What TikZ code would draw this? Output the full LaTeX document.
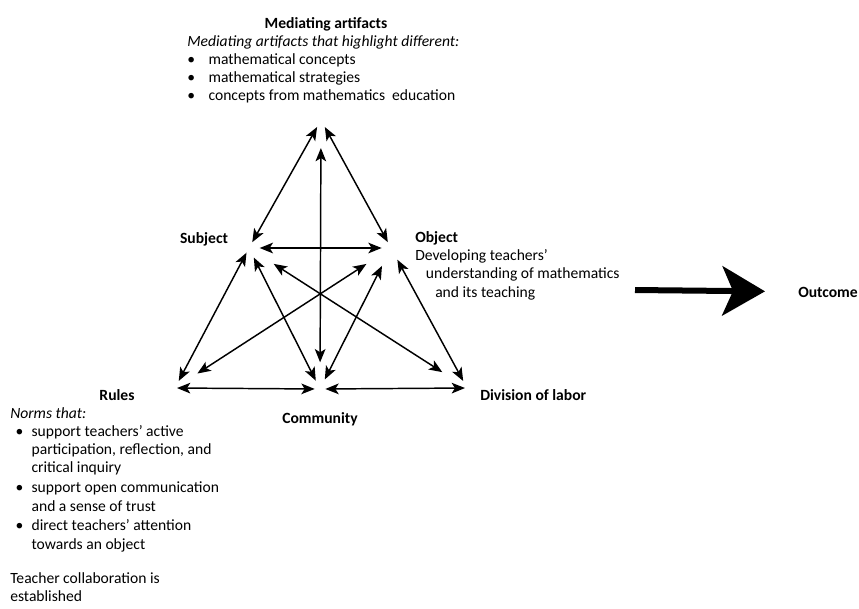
\documentclass[tikz,border=0pt]{standalone}
\usepackage{fontspec}
\setmainfont{Carlito}
\usetikzlibrary{arrows.meta}
\newcommand{\bul}{\makebox[16pt][l]{\textbullet}}
\newcommand{\rbul}{\makebox[16pt][l]{\hspace{4pt}\textbullet}}
\newcommand{\ind}{\hspace*{16pt}}

\begin{document}
\begin{tikzpicture}[x=0.75pt,y=-0.75pt,
  txt/.style={font=\fontsize{11.7}{13.7}\selectfont,inner sep=0pt},
  hd/.style={txt,font=\fontsize{11.7}{13.7}\selectfont\bfseries},
  link/.style={{Stealth[length=10pt,width=8pt,inset=2.5pt]}-{Stealth[length=10pt,width=8pt,inset=2.5pt]},line width=1.1pt},
  ]
\useasboundingbox (0,0) rectangle (859,608);

\coordinate (top) at (321,120);
\coordinate (subj) at (249,248);
\coordinate (obj) at (391,248);
\coordinate (rul) at (175,388);
\coordinate (com) at (320,389);
\coordinate (div) at (467,388);

\draw [link,shorten <=6pt,shorten >=5pt] (top) -- (subj);
\draw [link,shorten <=6pt,shorten >=5pt] (top) -- (obj);
\draw [link,shorten <=21pt,shorten >=20pt] (top) -- (com);
\draw [link,shorten <=8pt,shorten >=7pt] (subj) -- (obj);

\draw [link,shorten <=4pt,shorten >=6pt] (subj) -- (rul);
\draw [link,shorten <=8pt,shorten >=7pt] (subj) -- (com);
\draw [link,shorten <=22pt,shorten >=22pt] (subj) -- (div);
\draw [link,shorten <=22pt,shorten >=20pt] (obj) -- (rul);
\draw [link,shorten <=15pt,shorten >=8pt] (obj) -- (com);
\draw [link,shorten <=10pt,shorten >=6pt] (obj) -- (div);

\draw [link,shorten <=1.5pt,shorten >=4pt] (rul) -- (com);
\draw [link,shorten <=4pt,shorten >=1.5pt] (com) -- (div);

\node [hd] (medT) at (326,24) {Mediating artifacts};
\node [txt,anchor=north west,align=left] (medL) at (187,35)
  {\textit{Mediating artifacts that highlight different:}\\
   \bul mathematical concepts\\
   \bul mathematical strategies\\
   \bul concepts from mathematics\ \ education};

\node [hd] (subjT) at (204,239) {Subject};
\node [txt,anchor=north west,align=left] (objL) at (415,231)
  {\textbf{Object}\\
   Developing teachers'\\
   \hspace*{8pt}understanding of mathematics\\
   \hspace*{15pt}and its teaching};

\node [hd] (rulT) at (117,395) {Rules};
\node [txt,anchor=north west,align=left] (rulL) at (10,407)
  {\textit{Norms that:}\\
   \rbul support teachers' active\\
   \ind participation, reflection, and\\
   \ind critical inquiry\\[1.2pt]
   \rbul support open communication\\
   \ind and a sense of trust\\[1.2pt]
   \rbul direct teachers' attention\\
   \ind towards an object\\[12pt]
   Teacher collaboration is\\
   established};

\node [hd] (comT) at (320,419) {Community};
\node [hd,anchor=west] (divT) at (480,395) {Division of labor};

\node [hd,anchor=west] (outc) at (798,292) {Outcome};
\coordinate (arrS) at (635,290);
\draw [-{Stealth[length=32pt,width=37pt,inset=8pt]},line width=4.5pt,shorten >=24.75pt] (arrS) -- (outc);
\end{tikzpicture}
\end{document}
